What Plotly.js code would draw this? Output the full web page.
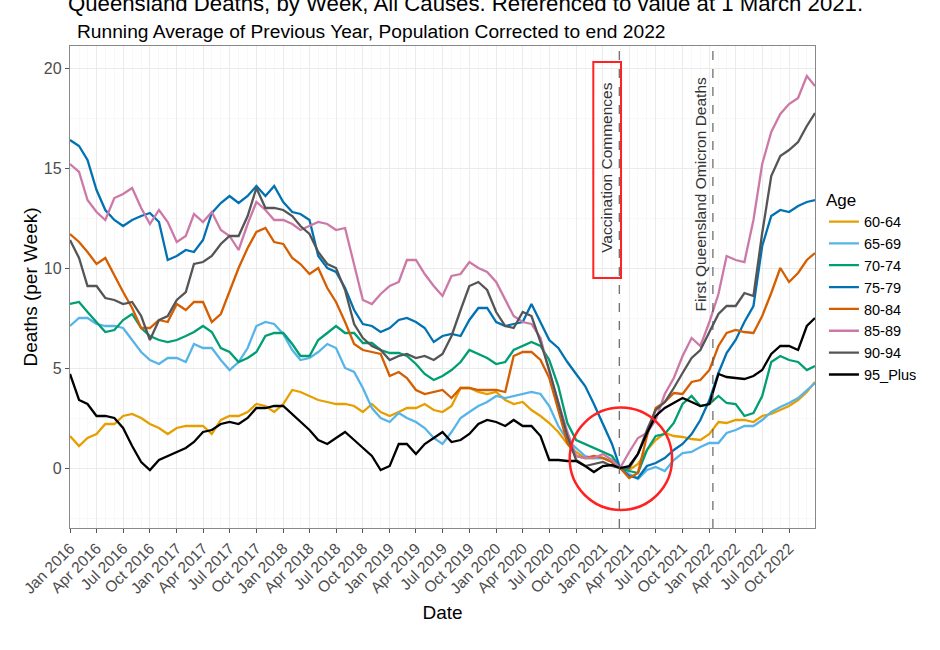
<!DOCTYPE html>
<html>
<head>
<meta charset="utf-8">
<script src="https://cdn.plot.ly/plotly-3.0.1.min.js"></script>
<style>
  html, body { margin: 0; padding: 0; background: #fff; }
  #chart { width: 940px; height: 650px; }
</style>
</head>
<body>
<div id="chart"></div>
<script>
const dates = [
  '2016-01-01','2016-02-01','2016-03-01','2016-04-01','2016-05-01','2016-06-01','2016-07-01','2016-08-01','2016-09-01','2016-10-01','2016-11-01','2016-12-01',
  '2017-01-01','2017-02-01','2017-03-01','2017-04-01','2017-05-01','2017-06-01','2017-07-01','2017-08-01','2017-09-01','2017-10-01','2017-11-01','2017-12-01',
  '2018-01-01','2018-02-01','2018-03-01','2018-04-01','2018-05-01','2018-06-01','2018-07-01','2018-08-01','2018-09-01','2018-10-01','2018-11-01','2018-12-01',
  '2019-01-01','2019-02-01','2019-03-01','2019-04-01','2019-05-01','2019-06-01','2019-07-01','2019-08-01','2019-09-01','2019-10-01','2019-11-01','2019-12-01',
  '2020-01-01','2020-02-01','2020-03-01','2020-04-01','2020-05-01','2020-06-01','2020-07-01','2020-08-01','2020-09-01','2020-10-01','2020-11-01','2020-12-01',
  '2021-01-01','2021-02-01','2021-03-01','2021-04-01','2021-05-01','2021-06-01','2021-07-01','2021-08-01','2021-09-01','2021-10-01','2021-11-01','2021-12-01',
  '2022-01-01','2022-02-01','2022-03-01','2022-04-01','2022-05-01','2022-06-01','2022-07-01','2022-08-01','2022-09-01','2022-10-01','2022-11-01','2022-12-01',
  '2022-12-29'
];

const age60to64 = [1.6,1.1,1.5,1.7,2.2,2.2,2.6,2.7,2.5,2.2,2.0,1.7,2.0,2.1,2.1,2.1,1.7,2.4,2.6,2.6,2.8,3.2,
  3.1,2.8,3.2,3.9,3.8,3.6,3.4,3.3,3.2,3.2,3.1,2.8,3.2,2.8,2.6,2.8,3.0,3.0,3.2,2.9,
  2.8,3.1,4.0,4.0,3.8,3.7,3.8,3.4,3.2,3.3,2.9,2.6,2.25,1.8,1.2,0.8,0.5,0.5,0.5,0.3,0.0,
  -0.1,0.2,0.9,1.4,1.75,1.6,1.55,1.45,1.4,1.7,2.3,2.25,2.4,2.4,2.3,2.6,2.7,2.9,3.1,3.4,3.8,4.3];
const age65to69 = [7.1,7.5,7.5,7.2,7.1,7.1,7.0,6.4,5.8,5.4,5.2,5.5,5.5,5.3,6.2,6.0,6.0,5.4,4.9,5.3,6.0,7.1,
  7.3,7.2,6.7,5.9,5.4,5.5,5.8,6.2,6.0,5.0,4.8,4.0,3.0,2.5,2.3,2.75,2.5,2.3,2.0,1.5,
  1.2,1.8,2.5,2.8,3.1,3.3,3.6,3.5,3.6,3.7,3.8,3.7,3.1,2.1,1.4,1.0,0.6,0.5,0.5,0.3,0.0,
  -0.3,-0.55,-0.1,0.05,-0.15,0.4,0.75,0.8,1.05,1.25,1.25,1.75,1.9,2.1,2.1,2.4,2.8,3.05,3.25,3.5,3.9,4.25];
const age70to74 = [8.2,8.3,7.8,7.3,6.8,6.9,7.4,7.7,7.0,6.6,6.4,6.3,6.4,6.6,6.8,7.1,6.8,6.0,5.8,5.3,5.5,5.8,
  6.6,6.75,6.75,6.2,5.6,5.6,6.4,6.75,7.1,6.75,6.75,6.25,6.25,5.9,5.75,5.75,5.6,5.2,4.7,4.4,
  4.6,4.9,5.3,5.9,5.7,5.5,5.2,5.3,5.9,6.1,6.3,6.1,5.4,4.1,2.25,1.4,1.2,1.0,0.8,0.6,0.0,
  -0.15,-0.25,0.9,1.6,1.7,2.25,3.2,3.6,3.1,3.2,3.6,3.25,3.2,2.6,2.75,3.6,5.3,5.6,5.4,5.3,4.9,5.1];
const age75to79 = [16.4,16.1,15.4,13.9,12.9,12.4,12.1,12.4,12.6,12.75,12.3,10.4,10.6,10.9,10.8,11.4,12.75,13.25,13.6,13.25,13.6,14.1,
  13.6,14.1,13.3,12.8,12.7,12.4,10.6,10.0,9.8,9.0,7.9,7.2,7.1,6.8,7.0,7.4,7.5,7.3,7.0,6.3,
  6.6,6.7,6.6,7.4,8.0,8.0,7.3,7.1,7.2,7.3,8.2,7.3,6.4,6.0,5.3,4.7,4.1,3.2,2.2,1.2,0.0,
  -0.4,-0.5,0.1,0.25,0.5,0.9,1.2,1.7,2.4,3.4,4.75,5.75,6.4,7.3,8.1,11.1,12.6,12.9,12.8,13.1,13.3,13.4];
const age80to84 = [11.7,11.3,10.8,10.2,10.5,9.6,8.8,8.0,7.0,7.0,7.4,7.3,8.2,7.9,8.3,8.3,7.3,7.7,8.8,10.0,11.0,11.8,
  12.0,11.3,11.2,10.5,10.2,9.7,10.0,9.0,8.3,7.3,6.2,5.9,5.8,5.7,4.6,4.8,4.5,3.9,3.7,3.8,
  3.9,3.5,4.0,4.0,3.9,3.9,3.9,3.8,5.6,5.8,5.8,5.4,4.5,2.9,1.25,0.6,0.5,0.6,0.5,0.3,0.0,
  -0.5,-0.25,1.6,3.0,3.3,3.75,3.7,4.3,4.4,4.9,6.1,6.75,6.9,6.8,6.75,7.6,8.75,10.0,9.3,9.75,10.4,10.75];
const age85to89 = [15.2,14.8,13.4,12.8,12.4,13.5,13.7,14.0,13.0,12.2,12.9,12.3,11.3,11.6,12.7,12.3,12.8,11.9,11.6,10.9,12.2,13.3,
  12.9,12.4,12.4,12.2,11.9,12.1,12.3,12.2,11.9,12.0,10.2,8.4,8.2,8.7,9.1,9.3,10.4,10.4,9.7,9.1,
  8.6,9.6,9.7,10.3,10.0,9.8,9.3,8.4,7.6,7.3,7.2,6.5,4.8,3.3,1.8,0.6,0.5,0.5,0.7,0.4,0.0,
  0.8,1.5,1.75,2.4,3.7,4.5,5.6,6.5,6.1,7.3,8.7,10.6,10.4,10.3,12.4,15.2,16.8,17.7,18.2,18.5,19.6,19.1];
const age90to94 = [11.4,10.5,9.1,9.1,8.5,8.4,8.2,8.3,7.6,6.4,7.4,7.6,8.4,8.8,10.2,10.3,10.6,11.2,11.6,11.6,12.6,14.0,
  13.0,13.0,12.9,12.6,12.1,11.7,10.8,10.2,10.0,8.9,7.2,6.5,6.1,5.9,5.4,5.6,5.7,5.5,5.6,5.4,
  5.7,6.6,7.9,9.1,9.3,8.9,7.8,7.1,7.0,7.8,7.6,6.3,4.9,3.2,1.6,0.4,0.1,0.2,0.3,0.1,0.0,
  0.0,0.7,1.9,2.9,3.3,4.0,4.75,5.5,5.9,6.8,7.7,8.1,8.1,8.75,8.6,11.75,14.6,15.6,15.9,16.3,17.1,17.75];
const age95plus = [4.7,3.4,3.2,2.6,2.6,2.5,2.0,1.1,0.3,-0.1,0.4,0.6,0.8,1.0,1.3,1.8,1.9,2.2,2.3,2.2,2.5,3.0,
  3.0,3.1,3.1,2.7,2.3,1.9,1.4,1.2,1.5,1.8,1.4,1.0,0.6,-0.1,0.1,1.2,1.2,0.7,1.2,1.5,
  1.8,1.3,1.4,1.7,2.2,2.4,2.3,2.1,2.4,2.1,2.1,1.6,0.4,0.4,0.35,0.35,0.1,-0.2,0.1,0.15,0.0,
  0.1,0.7,1.75,2.6,3.0,3.25,3.5,3.3,3.1,3.2,4.7,4.55,4.5,4.45,4.6,4.9,5.7,6.1,6.1,5.9,7.1,7.5];

const ageGroups = ['60-64','65-69','70-74','75-79','80-84','85-89','90-94','95_Plus'];
const ageSeries = [age60to64, age65to69, age70to74, age75to79, age80to84, age85to89, age90to94, age95plus];
const ageColours = ['#E69F00','#56B4E9','#009E73','#0072B2','#D55E00','#CC79A7','#555555','#000000'];

const vaccinationDate = '2021-02-26';
const omicronDate = '2022-01-13';

const font = 'Liberation Sans, Arial, sans-serif';

const traces = ageGroups.map((name, i) => ({
  x: dates,
  y: ageSeries[i],
  name: name,
  type: 'scatter',
  mode: 'lines',
  line: { color: ageColours[i], width: 2.3 },
}));

const layout = {
  width: 940,
  height: 650,
  paper_bgcolor: '#fff',
  plot_bgcolor: '#fff',
  margin: { l: 70, r: 125, t: 46, b: 122 },
  font: { family: font, color: '#000' },
  title: {
    text: 'Queensland Deaths, by Week, All Causes. Referenced to value at 1 March 2021.',
    font: { size: 22.2, color: '#000' },
    xref: 'container', x: 68 / 940, xanchor: 'left',
    yref: 'container', y: 1 - 3 / 650, yanchor: 'middle',
  },
  xaxis: {
    type: 'date',
    range: ['2016-01-01', '2022-12-29'],
    tick0: '2016-01-01',
    dtick: 'M3',
    tickformat: '%b %Y',
    tickangle: -45,
    ticks: 'outside', ticklen: 4, tickcolor: '#555',
    tickfont: { size: 15.5, color: '#4D4D4D' },
    showgrid: true, gridcolor: '#EBEBEB', gridwidth: 1,
    minor: { dtick: 'M1', showgrid: true, gridcolor: '#F5F5F5', gridwidth: 0.7 },
    showline: true, mirror: true, linecolor: '#888', linewidth: 1.2,
    zeroline: false,
    automargin: false,
    title: { text: 'Date', font: { size: 19, color: '#000' }, standoff: 10 },
  },
  yaxis: {
    range: [-3.0, 21.1],
    tick0: 0, dtick: 5,
    ticks: 'outside', ticklen: 4, tickcolor: '#555',
    tickfont: { size: 16, color: '#4D4D4D' },
    showgrid: true, gridcolor: '#EBEBEB', gridwidth: 1,
    minor: { dtick: 2.5, showgrid: true, gridcolor: '#F5F5F5', gridwidth: 0.7 },
    showline: true, mirror: true, linecolor: '#888', linewidth: 1.2,
    zeroline: false,
    automargin: false,
    title: { text: 'Deaths (per Week)', font: { size: 19, color: '#000' }, standoff: 1 },
  },
  legend: {
    title: { text: 'Age', font: { size: 17, color: '#000' } },
    font: { size: 14.5, color: '#000' },
    x: 1.012, xanchor: 'left',
    y: 0.5, yanchor: 'middle',
    bgcolor: 'rgba(0,0,0,0)',
  },
  shapes: [
    { type: 'line', xref: 'x', yref: 'paper', x0: vaccinationDate, x1: vaccinationDate, y0: 0, y1: 1,
      line: { color: '#555', width: 1.1, dash: 'dash' } },
    { type: 'line', xref: 'x', yref: 'paper', x0: omicronDate, x1: omicronDate, y0: 0, y1: 1,
      line: { color: '#555', width: 1.1, dash: 'dash' } },
    { type: 'rect', xref: 'x', yref: 'y', x0: '2020-11-29', x1: '2021-03-04', y0: 9.5, y1: 20.3,
      line: { color: '#F22', width: 2 }, layer: 'above' },
    { type: 'circle', xref: 'x', yref: 'y', x0: '2020-09-09', x1: '2021-08-26', y0: -2.1, y1: 3.02,
      line: { color: '#F22', width: 2.5 }, layer: 'above' },
  ],
  annotations: [
    { text: 'Running Average of Previous Year, Population Corrected to end 2022',
      xref: 'paper', yref: 'paper', x: 5 / 745, y: 1 + 15 / 482, xanchor: 'left', yanchor: 'middle',
      showarrow: false, font: { size: 19.2, color: '#000' } },
    { text: 'Vaccination Commences', xref: 'x', yref: 'y', x: '2021-01-13', y: 15.03,
      textangle: -90, showarrow: false, font: { size: 15.5, color: '#333' } },
    { text: 'First Queensland Omicron Deaths', xref: 'x', yref: 'y', x: '2021-12-03', y: 13.72,
      textangle: -90, showarrow: false, font: { size: 15.5, color: '#333' } },
  ],
};

Plotly.newPlot('chart', traces, layout, { displayModeBar: false, staticPlot: true });
</script>
</body>
</html>
